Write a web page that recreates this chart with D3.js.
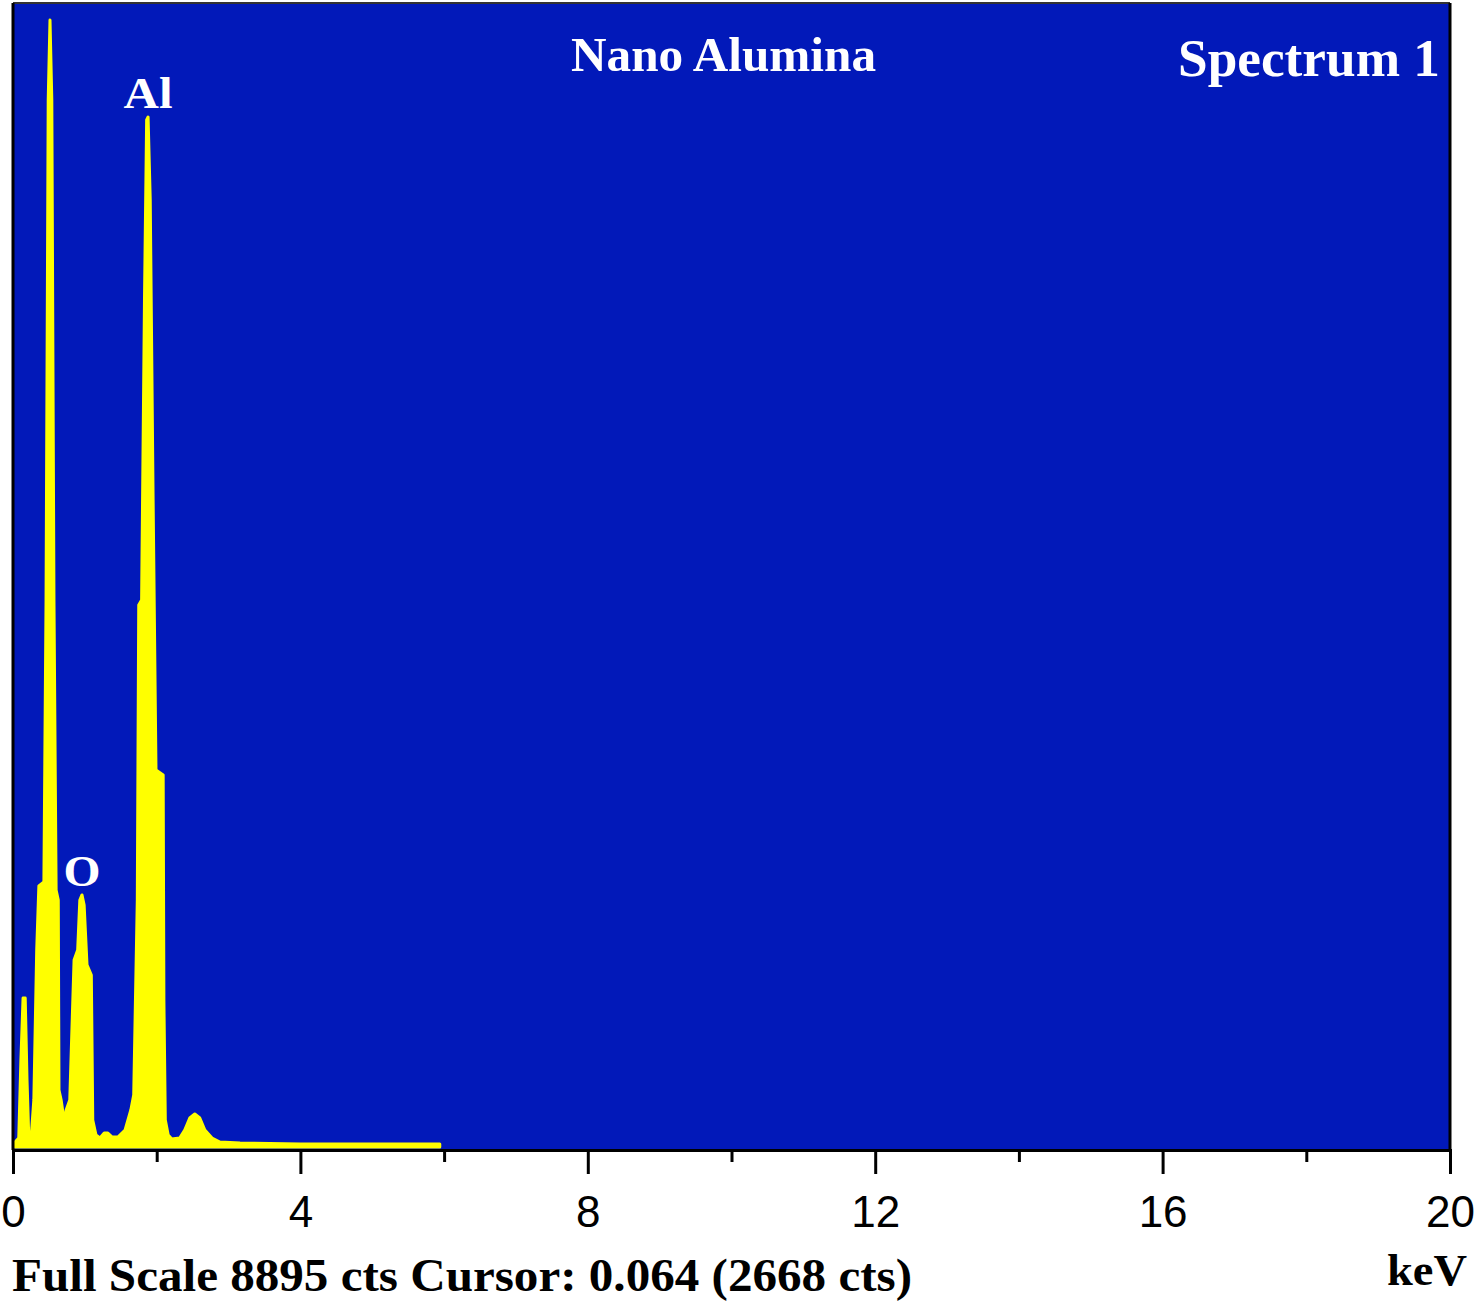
<!DOCTYPE html>
<html>
<head>
<meta charset="utf-8">
<script src="https://cdn.jsdelivr.net/npm/d3@7"></script>
<style>
  html, body { margin: 0; padding: 0; background: #ffffff; }
  svg { display: block; }
</style>
</head>
<body>
<svg id="chart" width="1476" height="1303"></svg>
<script>
// ---- data ----
const energyKeV = [0.03,0.08,0.11,0.14,0.17,0.195,0.22,0.25,0.29,0.33,0.36,0.43,0.46,0.49,0.515,0.54,0.57,0.60,0.63,0.64,0.67,0.70,0.71,0.74,0.79,0.85,0.90,0.93,0.96,0.99,1.03,1.09,1.11,1.155,1.21,1.27,1.32,1.38,1.46,1.56,1.64,1.68,1.73,1.75,1.79,1.83,1.86,1.88,1.91,1.95,1.99,2.09,2.10,2.12,2.16,2.21,2.32,2.39,2.46,2.53,2.60,2.67,2.77,2.88,3.16,4.0,5.94];
const counts    = [62,93,698,1179,1179,543,93,78,388,1551,2047,2078,4265,8143,8763,8143,4265,2016,1939,465,388,271,194,310,388,1473,1551,1939,1978,1900,1435,1357,233,116,93,132,132,101,101,155,310,427,1939,4227,4265,6592,7988,8011,7367,5041,2947,2908,1163,233,116,85,93,155,248,279,248,155,93,62,54,47,47];
const xTicksMajor = [0,4,8,12,16,20];
const xTicksMinor = [2,6,10,14,18];
const fullScale = 8895;
const titleText = "Nano Alumina";
const spectrumText = "Spectrum 1";
const peakLabels = [{name:"Al", keV:1.88, cts:8011}, {name:"O", keV:0.96, cts:1978}];
const footerText = "Full Scale 8895 cts Cursor: 0.064 (2668 cts)";
const unitText = "keV";

// ---- layout ----
const svg = d3.select("#chart");
const L = 13, R = 1450, T = 3, B = 1150;

const x = d3.scaleLinear().domain([0, 20]).range([L, R]);
const y = d3.scaleLinear().domain([0, fullScale]).range([B, T]);

// background
svg.append("rect").attr("x", L).attr("y", T).attr("width", R - L).attr("height", B - T)
  .attr("fill", "#0219b9");

// spectrum
const pts = energyKeV.map((e, i) => [e, counts[i]]);
const area = d3.area().x(d => x(d[0])).y0(y(0) - 3).y1(d => y(d[1]));
svg.append("path").datum(pts)
  .attr("d", area)
  .attr("fill", "#ffff00")
  .attr("stroke", "#ffff00")
  .attr("stroke-width", 3)
  .attr("stroke-linejoin", "round");

// frame
svg.append("line").attr("x1", L).attr("x2", R).attr("y1", T).attr("y2", T)
  .attr("stroke", "#333").attr("stroke-width", 2);
svg.append("line").attr("x1", L).attr("x2", L).attr("y1", T).attr("y2", B)
  .attr("stroke", "#000").attr("stroke-width", 3);
svg.append("line").attr("x1", R).attr("x2", R).attr("y1", T).attr("y2", B)
  .attr("stroke", "#000").attr("stroke-width", 3);

// x axis
const axisMajor = d3.axisBottom(x).tickValues(xTicksMajor).tickSize(24).tickPadding(22)
  .tickFormat(d3.format("d"));
const gx = svg.append("g").attr("transform", `translate(0,${B})`).call(axisMajor);
gx.select(".domain").attr("stroke", "#000").attr("stroke-width", 3);
gx.selectAll(".tick line").attr("stroke", "#000").attr("stroke-width", 3);
gx.selectAll(".tick text").attr("font-family", "Liberation Sans, Arial, sans-serif")
  .attr("font-size", 44).attr("fill", "#000");
const axisMinor = d3.axisBottom(x).tickValues(xTicksMinor).tickSize(12).tickFormat("");
const gm = svg.append("g").attr("transform", `translate(0,${B})`).call(axisMinor);
gm.select(".domain").remove();
gm.selectAll(".tick line").attr("stroke", "#000").attr("stroke-width", 3);

// texts
const serif = "Liberation Serif, Times New Roman, serif";
svg.append("text").attr("x", 571).attr("y", 71)
  .attr("font-family", serif).attr("font-weight", "bold").attr("font-size", 48)
  .attr("textLength", 305).attr("lengthAdjust", "spacingAndGlyphs")
  .attr("fill", "#fff").text(titleText);
svg.append("text").attr("x", 1178).attr("y", 76)
  .attr("font-family", serif).attr("font-weight", "bold").attr("font-size", 52)
  .attr("textLength", 262).attr("lengthAdjust", "spacingAndGlyphs")
  .attr("fill", "#fff").text(spectrumText);
const labelWidths = {"Al": 49, "O": 37};
peakLabels.forEach(p => {
  const w = labelWidths[p.name];
  svg.append("text").attr("x", x(p.keV) - w / 2).attr("y", y(p.cts) - 9)
    .attr("font-family", serif).attr("font-weight", "bold").attr("font-size", 44)
    .attr("textLength", w).attr("lengthAdjust", "spacingAndGlyphs")
    .attr("fill", "#fff").text(p.name);
});
svg.append("text").attr("x", 12).attr("y", 1291)
  .attr("font-family", serif).attr("font-weight", "bold").attr("font-size", 46)
  .attr("textLength", 900).attr("lengthAdjust", "spacingAndGlyphs")
  .attr("fill", "#000").text(footerText);
svg.append("text").attr("x", 1387).attr("y", 1285)
  .attr("font-family", serif).attr("font-weight", "bold").attr("font-size", 44)
  .attr("textLength", 80).attr("lengthAdjust", "spacingAndGlyphs")
  .attr("fill", "#000").text(unitText);
</script>
</body>
</html>
